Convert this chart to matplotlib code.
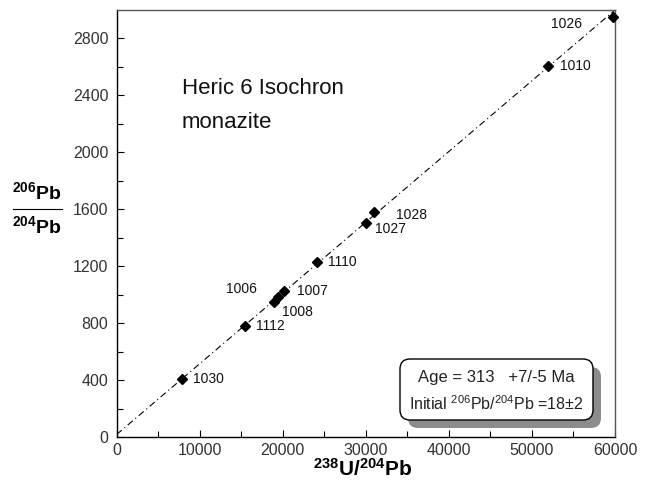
import matplotlib
matplotlib.use("Agg")
import matplotlib.pyplot as plt
import matplotlib.patches as mpatches
from matplotlib.transforms import IdentityTransform
import numpy as np

plt.rcParams['font.family'] = ['Liberation Sans', 'DejaVu Sans']
plt.rcParams['mathtext.fontset'] = 'custom'
plt.rcParams['mathtext.rm'] = 'Liberation Sans'
plt.rcParams['mathtext.bf'] = 'Liberation Sans:bold'
plt.rcParams['mathtext.it'] = 'Liberation Sans:italic'

# ---- data ----
sample_names = ["1030", "1112", "1008", "1006", "1007", "1110", "1027", "1028", "1010", "1026"]
u238_pb204 = [7900, 15480, 18980, 19460, 20140, 24080, 29980, 30950, 51970, 59800]
pb206_pb204 = [408, 780, 947, 986, 1026, 1230, 1502, 1579, 2609, 2953]
isochron_intercept = 18
isochron_slope = 0.0497
x_range = [0, 60000]
x_ticks = [0, 10000, 20000, 30000, 40000, 50000, 60000]
y_ticks = [0, 400, 800, 1200, 1600, 2000, 2400, 2800]

# label offsets (pixels: dx, dy downwards), alignment
label_offsets = {
    "1030": (11, 0, 'left'),
    "1112": (11, 0, 'left'),
    "1008": (8, 10, 'left'),
    "1006": (-21, -8, 'right'),
    "1007": (13, 0, 'left'),
    "1110": (11, 0, 'left'),
    "1027": (9, 6, 'left'),
    "1028": (22, 3, 'left'),
    "1010": (12, 0, 'left'),
    "1026": (-31, 7, 'right'),
}

W, H = 646, 490
fig = plt.figure(figsize=(W / 100, H / 100), dpi=100)
ax = fig.add_axes([116.7 / W, 1 - 437 / H, (615 - 116.7) / W, 427 / H])

ax.set_xlim(0, 60000)
ax.set_ylim(0, 3000)

# isochron line
xl = np.array(x_range, dtype=float)
ax.plot(xl, isochron_intercept + isochron_slope * xl, color='black', lw=0.8,
        linestyle=(0, (6, 3, 1, 3)), zorder=2)

ax.plot(u238_pb204, pb206_pb204, linestyle='none', marker='D', ms=5.5,
        color='black', zorder=3, clip_on=False)

for name, xv, yv in zip(sample_names, u238_pb204, pb206_pb204):
    dx, dy, ha = label_offsets[name]
    ax.annotate(name, (xv, yv), xytext=(dx * 0.72, -dy * 0.72),
                textcoords='offset points', ha=ha, va='center',
                fontsize=10, color='#111111')

# ticks
ax.set_xticks(x_ticks)
ax.set_yticks(y_ticks)
ax.set_xticks(np.arange(5000, 60000, 10000), minor=True)
ax.set_yticks(np.arange(200, 3000, 400), minor=True)
ax.set_xticklabels([str(v) for v in x_ticks])
ax.set_yticklabels([str(v) for v in y_ticks])
ax.tick_params(which='both', direction='in', color='black', width=0.8,
               labelsize=11.5, labelcolor='#333333')
ax.tick_params(which='major', length=5)
ax.tick_params(axis='x', which='major', pad=4)
ax.tick_params(axis='y', which='major', pad=6)
ax.tick_params(which='minor', length=4)

for s in ['left', 'bottom']:
    ax.spines[s].set_color('black')
    ax.spines[s].set_linewidth(1.0)
for s in ['top', 'right']:
    ax.spines[s].set_color('#555555')
    ax.spines[s].set_linewidth(1.0)

# axis labels
fig.text(363 / W, 1 - 469 / H, r'$\mathbf{^{238}U/^{204}Pb}$', ha='center', va='center',
         fontsize=15)
fig.text(37 / W, 1 - 192 / H, r'$\mathbf{^{206}Pb}$', ha='center', va='center', fontsize=14)
fig.text(37 / W, 1 - 226 / H, r'$\mathbf{^{204}Pb}$', ha='center', va='center', fontsize=14)
fig.add_artist(plt.Line2D([13 / W, 62 / W], [1 - 209 / H, 1 - 209 / H],
                          color='black', lw=0.8, transform=fig.transFigure))

# title text
ax.text(182 / W, 1 - 88 / H, "Heric 6 Isochron", transform=fig.transFigure,
        fontsize=16, ha='left', va='center', color='#111111')
ax.text(182 / W, 1 - 122 / H, "monazite", transform=fig.transFigure,
        fontsize=16, ha='left', va='center', color='#111111')

# result box with shadow (pixel coordinates)
bx, by, bw, bh = 400, H - 420, 193, 61
shadow = mpatches.FancyBboxPatch((bx + 8, by - 8), bw, bh,
                                 boxstyle='round,pad=0,rounding_size=10',
                                 transform=IdentityTransform(),
                                 facecolor='#8c8c8c', edgecolor='none', zorder=5)
box = mpatches.FancyBboxPatch((bx, by), bw, bh,
                              boxstyle='round,pad=0,rounding_size=10',
                              transform=IdentityTransform(),
                              facecolor='white', edgecolor='black', lw=1.0, zorder=6)
fig.add_artist(shadow)
fig.add_artist(box)
fig.text((bx + bw / 2) / W, 1 - 377 / H, "Age = 313   +7/-5 Ma", ha='center', va='center',
         fontsize=12, color='#222222', zorder=7)
fig.text((bx + bw / 2) / W, 1 - 404 / H, r'Initial $^{206}$Pb/$^{204}$Pb =18$\pm$2',
         ha='center', va='center', fontsize=11.5, color='#222222', zorder=7)

fig.savefig("out.png", dpi=100)
